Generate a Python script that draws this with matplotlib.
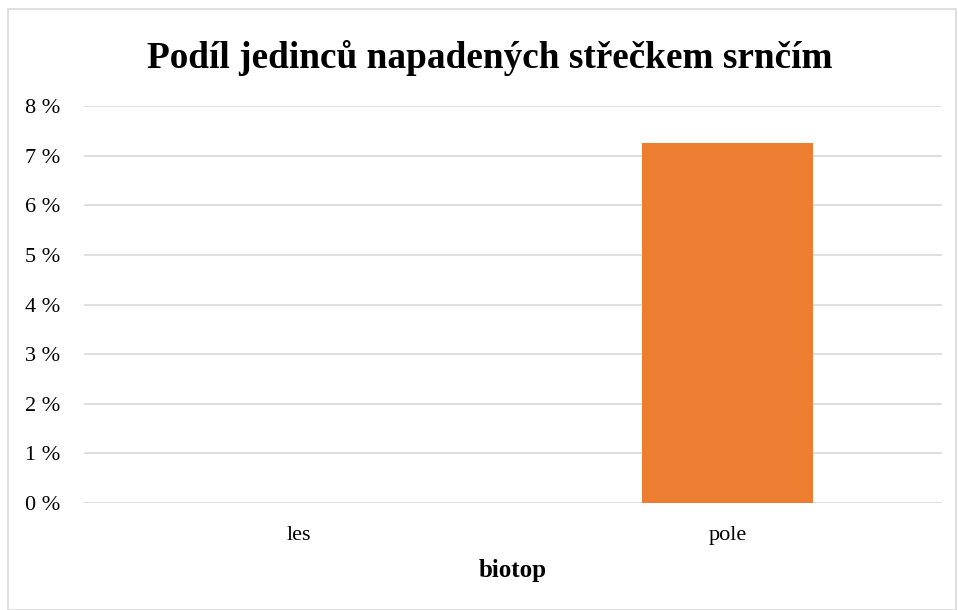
import matplotlib.pyplot as plt
from matplotlib.patches import Rectangle
from matplotlib.ticker import FuncFormatter

# data
categories = ['les', 'pole']
shares = [0.0, 7.25]  # percent

plt.rcParams['font.family'] = ['Liberation Serif', 'DejaVu Serif']

fig = plt.figure(figsize=(9.58, 6.10), dpi=100)
W, H = 958, 610
ax = fig.add_axes([84/W, 1-503/H, (942-84)/W, (503-106)/H])

ax.bar(range(len(categories)), shares, width=0.4, color='#ED7D31', zorder=3)

ax.set_xlim(-0.5, 1.5)
ax.set_ylim(0, 8)
ax.set_yticks(range(0, 9))
ax.yaxis.set_major_formatter(FuncFormatter(lambda v, p: '{:d} %'.format(int(v))))
ax.set_xticks(range(len(categories)))
ax.set_xticklabels(categories)
ax.grid(axis='y', color='#d9d9d9', linewidth=1.2, zorder=0)
for s in ax.spines.values():
    s.set_visible(False)
ax.tick_params(length=0, labelsize=16, colors='black')
ax.tick_params(axis='y', pad=17)
ax.tick_params(axis='x', pad=16.5)
ax.set_xlabel('biotop', fontsize=18, fontweight='bold', labelpad=10.5)

fig.text(490/W, 1-58/H, 'Podíl jedinců napadených střečkem srnčím',
         ha='center', va='center', fontsize=26.8, fontweight='bold')

# chart frame
fig.patches.append(Rectangle((8/W, 0), (956-8)/W, 1-9/H, transform=fig.transFigure,
                             fill=False, edgecolor='#d9d9d9', linewidth=1.2))

fig.savefig('out.png', dpi=100)
